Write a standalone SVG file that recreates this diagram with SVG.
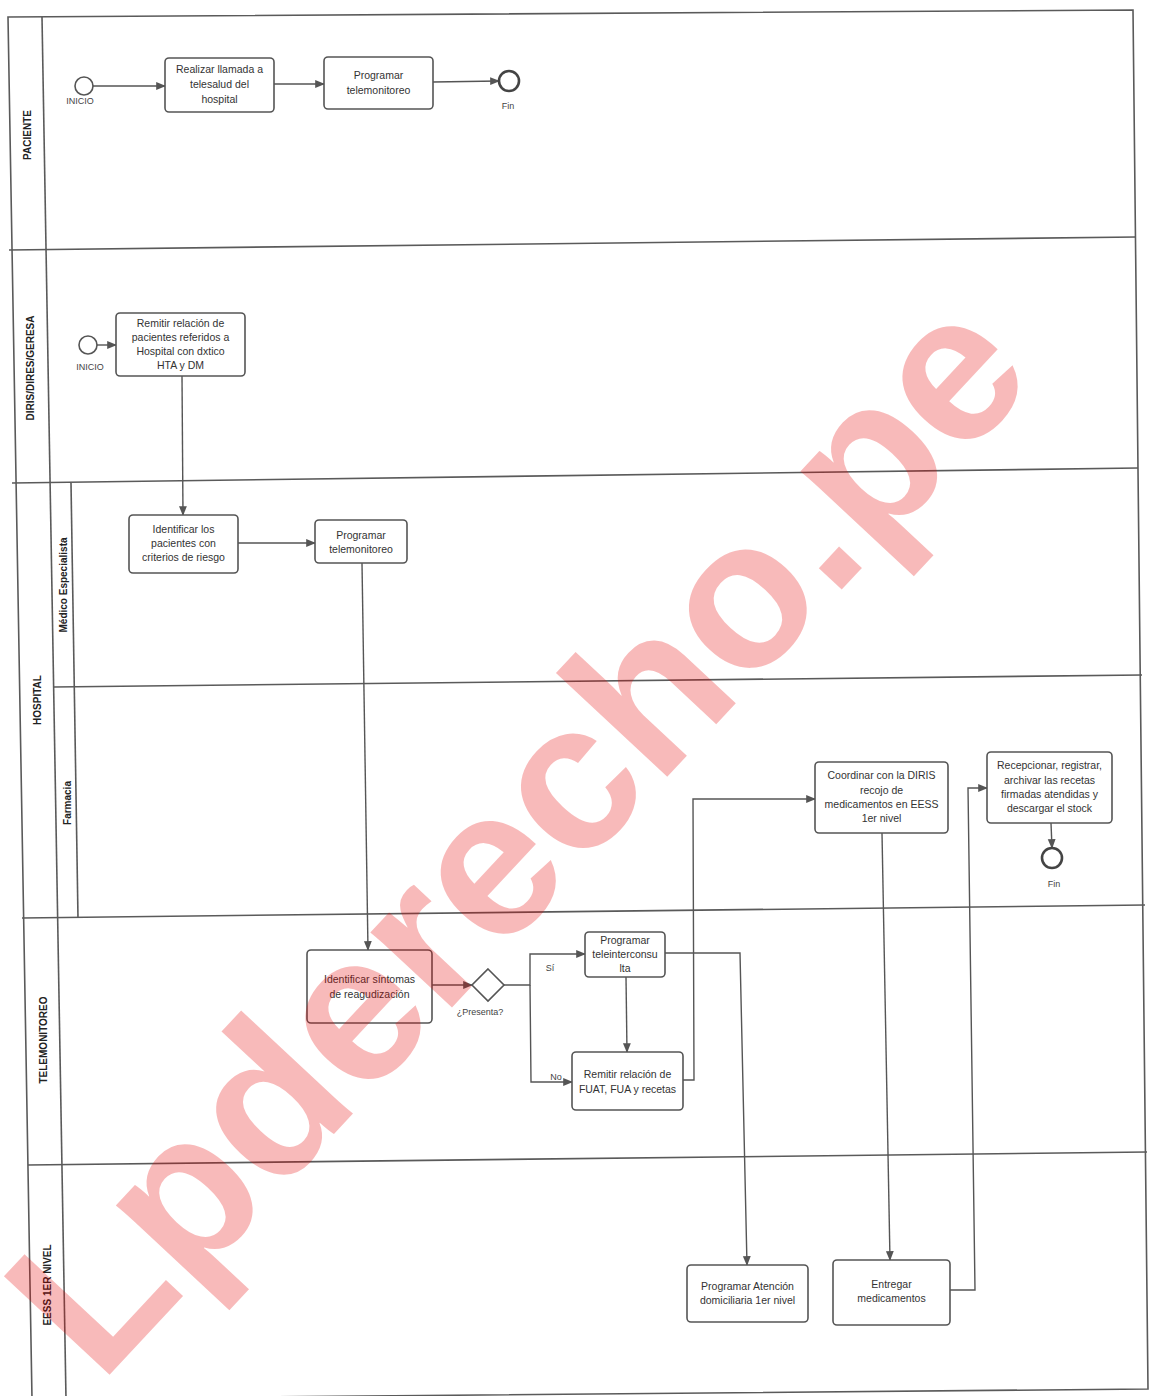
<svg xmlns="http://www.w3.org/2000/svg" width="1153" height="1396" viewBox="0 0 1153 1396">
<style>
.lane{fill:none;stroke:#5a5a5a;stroke-width:1.6}
.hdr{font-family:"Liberation Sans",Arial,sans-serif;font-weight:bold;font-size:10px;fill:#222;text-anchor:middle}
.box{fill:#fff;stroke:#555;stroke-width:1.6}
.t{font-family:"Liberation Sans",Arial,sans-serif;font-size:10.5px;fill:#333;text-anchor:middle}
.s{font-family:"Liberation Sans",Arial,sans-serif;font-size:9px;fill:#444;text-anchor:middle}
.ev{fill:#fff;stroke:#555;stroke-width:1.6}
.end{fill:#fff;stroke:#444;stroke-width:2.6}
.c{fill:none;stroke:#555;stroke-width:1.4}
</style>
<defs>
<marker id="arr" viewBox="0 0 10 10" refX="9" refY="5" markerWidth="7" markerHeight="7" orient="auto">
<path d="M0,1 L10,5 L0,9 z" fill="#555"/>
</marker>
</defs>
<rect width="1153" height="1396" fill="#fff"/>
<g id="pool">
<polygon class="lane" points="8,17 1133,10 1148,1389 32,1399"/>
<line class="lane" x1="42" y1="17" x2="66" y2="1399"/>
<line class="lane" x1="9" y1="250" x2="1136" y2="237"/>
<line class="lane" x1="12" y1="483" x2="1138" y2="468"/>
<line class="lane" x1="22" y1="918" x2="1145" y2="905"/>
<line class="lane" x1="28" y1="1165" x2="1147" y2="1152"/>
<line class="lane" x1="54" y1="687" x2="1142" y2="675"/>
<line class="lane" x1="71" y1="483" x2="78" y2="918"/>
</g>
<g id="lane-labels">
<text class="hdr" transform="translate(31,135) rotate(-90)">PACIENTE</text>
<text class="hdr" font-size="9.5" transform="translate(34,368) rotate(-90)">DIRIS/DIRES/GERESA</text>
<text class="hdr" font-size="8" transform="translate(41,700) rotate(-90)">HOSPITAL</text>
<text class="hdr" font-size="9.5" transform="translate(67,585) rotate(-90)">Médico Especialista</text>
<text class="hdr" font-size="9.5" transform="translate(71,803) rotate(-90)">Farmacia</text>
<text class="hdr" transform="translate(47,1040) rotate(-90)">TELEMONITOREO</text>
<text class="hdr" transform="translate(51,1285) rotate(-90)">EESS 1ER NIVEL</text>
</g>
<g id="connectors">
<path class="c" d="M93,86 L165,86" marker-end="url(#arr)"/>
<path class="c" d="M274,84 L324,84" marker-end="url(#arr)"/>
<path class="c" d="M433,82 L499,81" marker-end="url(#arr)"/>
<path class="c" d="M97,345 L116,345" marker-end="url(#arr)"/>
<path class="c" d="M182,376 L183,515" marker-end="url(#arr)"/>
<path class="c" d="M238,543 L315,543" marker-end="url(#arr)"/>
<path class="c" d="M362,563 L368,950" marker-end="url(#arr)"/>
<path class="c" d="M432,985 L472,985" marker-end="url(#arr)"/>
<path class="c" d="M504,985 L530,985 L530,954 L585,954" marker-end="url(#arr)"/>
<path class="c" d="M530,985 L531,1082 L572,1082" marker-end="url(#arr)"/>
<path class="c" d="M626,977 L627,1052" marker-end="url(#arr)"/>
<path class="c" d="M683,1080 L694,1080 L693,799 L815,799" marker-end="url(#arr)"/>
<path class="c" d="M665,953 L740,953 L747,1265" marker-end="url(#arr)"/>
<path class="c" d="M882,833 L890,1260" marker-end="url(#arr)"/>
<path class="c" d="M950,1290 L975,1290 L968,788 L987,788" marker-end="url(#arr)"/>
<path class="c" d="M1051,823 L1052,848" marker-end="url(#arr)"/>
<text class="s" x="550" y="971">Sí</text>
<text class="s" x="556" y="1080">No</text>
</g>
<g id="start1"><circle class="ev" cx="84" cy="86" r="9"/><text class="s" x="80" y="104">INICIO</text></g>
<g id="t_llamada"><rect class="box" x="165" y="58" width="109" height="54" rx="4"/>
<text class="t" x="219.5" y="73">Realizar llamada a</text><text class="t" x="219.5" y="88">telesalud del</text><text class="t" x="219.5" y="103">hospital</text></g>
<g id="t_prog_tm1"><rect class="box" x="324" y="57" width="109" height="52" rx="4"/>
<text class="t" x="378.5" y="79">Programar</text><text class="t" x="378.5" y="94">telemonitoreo</text></g>
<g id="end1"><circle class="end" cx="509" cy="81" r="10"/><text class="s" font-size="7" x="508" y="109">Fin</text></g>
<g id="start2"><circle class="ev" cx="88" cy="345" r="9"/><text class="s" x="90" y="370">INICIO</text></g>
<g id="t_remitir1"><rect class="box" x="116" y="313" width="129" height="63" rx="4"/>
<text class="t" x="180.5" y="327">Remitir relación de</text><text class="t" x="180.5" y="341">pacientes referidos a</text><text class="t" x="180.5" y="355">Hospital con dxtico</text><text class="t" x="180.5" y="369">HTA y DM</text></g>
<g id="t_identificar"><rect class="box" x="129" y="515" width="109" height="58" rx="4"/>
<text class="t" x="183.5" y="533">Identificar los</text><text class="t" x="183.5" y="547">pacientes con</text><text class="t" x="183.5" y="561">criterios de riesgo</text></g>
<g id="t_prog_tm2"><rect class="box" x="315" y="520" width="92" height="43" rx="4"/>
<text class="t" x="361" y="539">Programar</text><text class="t" x="361" y="553">telemonitoreo</text></g>
<g id="t_coordinar"><rect class="box" x="815" y="762" width="133" height="71" rx="4"/>
<text class="t" x="881.5" y="779">Coordinar con la DIRIS</text><text class="t" x="881.5" y="794">recojo de</text><text class="t" x="881.5" y="808">medicamentos en EESS</text><text class="t" x="881.5" y="822">1er nivel</text></g>
<g id="t_recepcionar"><rect class="box" x="987" y="752" width="125" height="71" rx="4"/>
<text class="t" x="1049.5" y="769">Recepcionar, registrar,</text><text class="t" x="1049.5" y="784">archivar las recetas</text><text class="t" x="1049.5" y="798">firmadas atendidas y</text><text class="t" x="1049.5" y="812">descargar el stock</text></g>
<g id="end2"><circle class="end" cx="1052" cy="858" r="10"/><text class="s" font-size="7" x="1054" y="887">Fin</text></g>
<g id="t_sintomas"><rect class="box" x="307" y="950" width="125" height="73" rx="4"/>
<text class="t" x="369.5" y="983">Identificar síntomas</text><text class="t" x="369.5" y="998">de reagudización</text></g>
<g id="gateway"><polygon class="ev" points="488,969 504,985 488,1001 472,985"/><text class="s" x="480" y="1015">¿Presenta?</text></g>
<g id="t_prog_tic"><rect class="box" x="585" y="932" width="80" height="45" rx="4"/>
<text class="t" x="625" y="944">Programar</text><text class="t" x="625" y="958">teleinterconsu</text><text class="t" x="625" y="972">lta</text></g>
<g id="t_remitir2"><rect class="box" x="572" y="1052" width="111" height="58" rx="4"/>
<text class="t" x="627.5" y="1078">Remitir relación de</text><text class="t" x="627.5" y="1093">FUAT, FUA y recetas</text></g>
<g id="t_prog_atencion"><rect class="box" x="687" y="1265" width="121" height="57" rx="4"/>
<text class="t" x="747.5" y="1290">Programar Atención</text><text class="t" x="747.5" y="1304">domiciliaria 1er nivel</text></g>
<g id="t_entregar"><rect class="box" x="833" y="1260" width="117" height="65" rx="4"/>
<text class="t" x="891.5" y="1288">Entregar</text><text class="t" x="891.5" y="1302">medicamentos</text></g>
<g id="watermark"><text x="0" y="0" transform="translate(100,1385) rotate(-47)" font-family="Liberation Sans, Arial, sans-serif" font-weight="bold" font-size="210" fill="#e60000" fill-opacity="0.27">Lpderecho.pe</text></g>
</svg>
